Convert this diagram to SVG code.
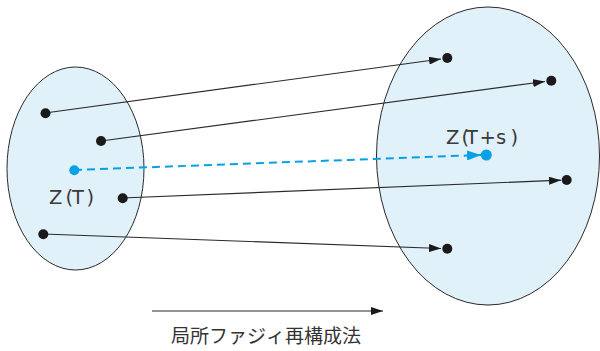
<svg xmlns="http://www.w3.org/2000/svg" width="600" height="351" viewBox="0 0 600 351">
<style>
.set{fill:#e1f1fa;stroke:#2a2a2a;stroke-width:1}
.pt{fill:#1a1a1a}
.bp{fill:#0aa0e6}
.ln{stroke:#2a2a2a;stroke-width:1.2;fill:none}
.dl{stroke:#0aa0e6;stroke-width:2;fill:none;stroke-dasharray:8 5}
.lbl{font-family:"DejaVu Sans","Liberation Sans",sans-serif;font-size:19.5px;fill:#3a3a3a}
.cap{font-family:"Noto Sans CJK JP",sans-serif;font-size:19px;fill:#333}
</style>
<defs>
<marker id="ah" viewBox="0 0 12 8" refX="12" refY="4" markerWidth="12" markerHeight="8" markerUnits="userSpaceOnUse" orient="auto">
<path d="M0,0 L12,4 L0,8 Z" fill="#1a1a1a"/>
</marker>
<marker id="ahb" viewBox="0 0 14 10" refX="14" refY="5" markerWidth="14" markerHeight="10" markerUnits="userSpaceOnUse" orient="auto">
<path d="M0,0 L14,5 L0,10 Z" fill="#0aa0e6"/>
</marker>
</defs>
<g id="setT">
<ellipse class="set" cx="75.5" cy="168.5" rx="68.5" ry="101.5"/>
</g>
<g id="setTs">
<ellipse class="set" cx="488" cy="156" rx="111.5" ry="149"/>
</g>
<g id="connectors">
<line class="ln" x1="45" y1="113" x2="441" y2="59" marker-end="url(#ah)"/>
<line class="ln" x1="101" y1="141" x2="545" y2="81.5" marker-end="url(#ah)"/>
<line class="dl" x1="74" y1="170" x2="481" y2="155" marker-end="url(#ahb)"/>
<line class="ln" x1="122" y1="198" x2="561" y2="180.2" marker-end="url(#ah)"/>
<line class="ln" x1="43" y1="234" x2="441" y2="248.5" marker-end="url(#ah)"/>
<line class="ln" x1="152" y1="311" x2="383" y2="311" marker-end="url(#ah)"/>
</g>
<g id="p1"><circle class="pt" cx="45.5" cy="113.3" r="5"/></g>
<g id="p2"><circle class="pt" cx="101" cy="141" r="5"/></g>
<g id="zT"><circle class="bp" cx="74.3" cy="170.3" r="5"/><text class="lbl" x="49 65.5 72 86.5" y="204">Z(T)</text></g>
<g id="p4"><circle class="pt" cx="122.7" cy="198.3" r="5"/></g>
<g id="p5"><circle class="pt" cx="43.3" cy="234.3" r="5"/></g>
<g id="q1"><circle class="pt" cx="447.3" cy="58" r="5"/></g>
<g id="q2"><circle class="pt" cx="551.3" cy="80.7" r="5"/></g>
<g id="zTs"><circle class="bp" cx="486.3" cy="155" r="5.5"/><text class="lbl" x="446 461.5 466 479.5 496 510.5" y="144">Z(T+s)</text></g>
<g id="q4"><circle class="pt" cx="566.7" cy="180" r="5"/></g>
<g id="q5"><circle class="pt" cx="447.3" cy="248.7" r="5"/></g>
<g id="caption"><text class="cap" x="171" y="343">局所ファジィ再構成法</text></g>
</svg>
